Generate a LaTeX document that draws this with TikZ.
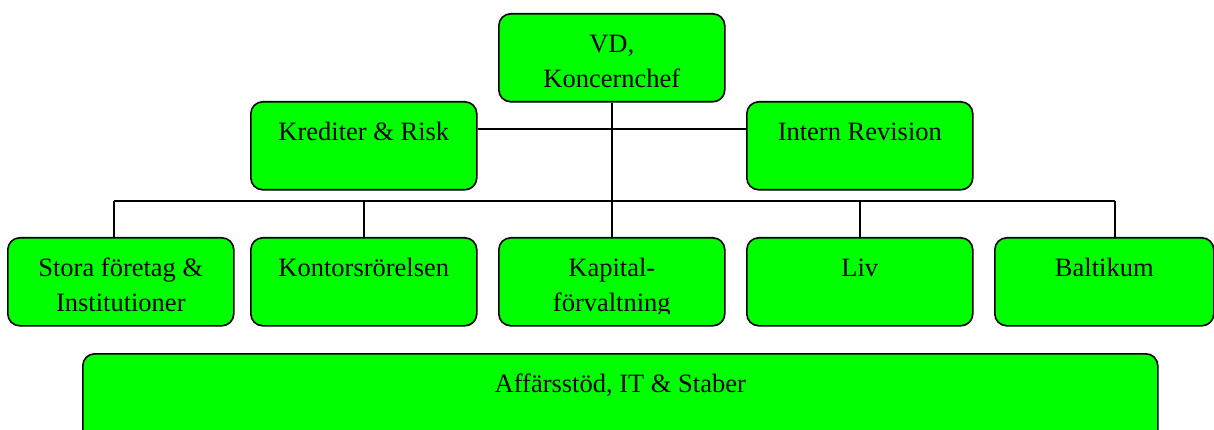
\documentclass[tikz,border=0pt]{standalone}
\usepackage{fontspec}
\setmainfont{Liberation Serif}
\usetikzlibrary{positioning}

\newcommand{\orgfont}{\fontsize{26.5}{35}\selectfont}
\tikzset{
  unit/.style={draw=black, fill=green, line width=1.6pt, rounded corners=12pt,
    anchor=north west, inner sep=0pt, minimum width=226pt, minimum height=88pt},
  unittext/.style={anchor=base, yshift=-39.5pt, font=\orgfont, align=center},
  twoline/.style={unittext, yshift=-35pt},
  link/.style={line width=1.6pt}
}

\begin{document}
\begin{tikzpicture}[x=1pt, y=-1pt]
 \clip (0,0) rectangle (1214,430);
 \node (vd)     [unit, label={[twoline]north:{VD,\\Koncernchef}}] at (498,13) {};
 \node (kred)   [unit, label={[unittext]north:{Krediter \& Risk}}] at (250,101) {};
 \node (intern) [unit, label={[unittext]north:{Intern Revision}}] at (746,101) {};
 \node (stora)  [unit, label={[twoline]north:{Stora företag \&\\Institutioner}}] at (7,237) {};
 \node (kontor) [unit, label={[unittext]north:{Kontorsrörelsen}}] at (250,237) {};
 \node (kapital)[unit] at (498,237) {};
 \node (liv)    [unit, label={[unittext]north:{Liv}}] at (746,237) {};
 \node (balt)   [unit, minimum width=219pt, label={[unittext]north:{Baltikum}}] at (994,237) {};
 \node (affar)  [unit, minimum width=1075pt, minimum height=90pt,
   label={[unittext]north:{Affärsstöd, IT \& Staber}}] at (82,353) {};
 % text cut off at the bottom, as in the original
 \begin{scope}
  \clip (498,237) rectangle (724,313);
  \node (kapitaltext) [twoline] at (kapital.north) {Kapital-\\förvaltning};
 \end{scope}

 \coordinate (busl) at (114,201);
 \coordinate (busr) at (1115,201);
 \draw[link] ([yshift=17pt]kred.east) -- ([yshift=17pt]intern.west);
 \draw[link] (vd.south) -- (kapital.north);
 \draw[link] (busl) -- (busr);
 \draw[link] (busl) -- (busl |- stora.north);
 \draw[link] (busr) -- (busr |- balt.north);
 \foreach \n in {kontor, liv}
  \draw[link] (\n.north) -- (\n.north |- busl);
\end{tikzpicture}
\end{document}
